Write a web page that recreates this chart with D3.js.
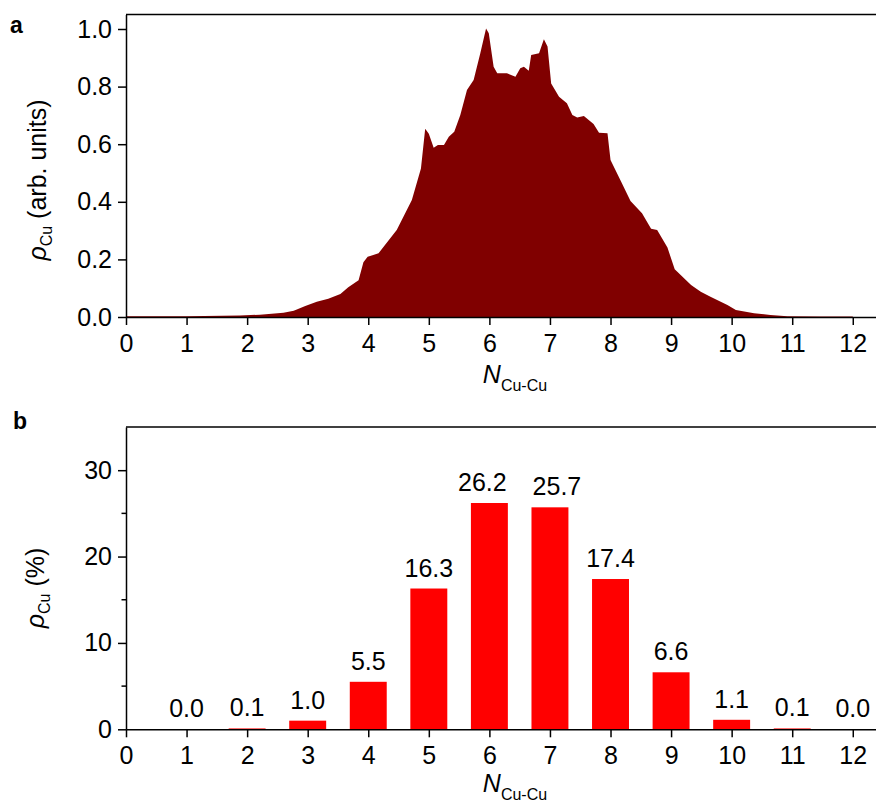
<!DOCTYPE html>
<html>
<head>
    <meta charset="utf-8">
    <title>Cu coordination</title>
    <style>
        body { margin: 0; background: #fff; }
        text { font-family: "Liberation Sans", Arial, sans-serif; fill: #000; }
    </style>
</head>
<body>
    <script src="https://cdnjs.cloudflare.com/ajax/libs/d3/7.9.0/d3.min.js"></script>
    <script>
        // panel a: density of Cu vs coordination number
        const densityN = [0, 1.0, 1.88, 2.21, 2.6, 2.77, 2.96, 3.15, 3.34, 3.54, 3.67, 3.84, 3.92, 3.99,
            4.17, 4.36, 4.47, 4.72, 4.87, 4.94, 5.0, 5.08, 5.15, 5.25, 5.33, 5.42, 5.52, 5.63, 5.74,
            5.85, 5.945, 5.99, 6.07, 6.13, 6.29, 6.43, 6.51, 6.57, 6.65, 6.69, 6.82, 6.9, 6.96, 7.02,
            7.15, 7.28, 7.37, 7.45, 7.56, 7.72, 7.81, 7.95, 8.0, 8.17, 8.33, 8.52, 8.67, 8.77, 8.94,
            9.06, 9.33, 9.49, 9.65, 9.93, 10.07, 10.37, 10.64, 10.92, 11.47, 12.0];
        const densityRho = [0.003, 0.003, 0.005, 0.008, 0.015, 0.022, 0.038, 0.053, 0.063, 0.080, 0.103,
            0.128, 0.190, 0.209, 0.221, 0.273, 0.302, 0.406, 0.516, 0.654, 0.636, 0.588, 0.597, 0.597,
            0.626, 0.643, 0.701, 0.788, 0.823, 0.916, 1.002, 0.985, 0.869, 0.846, 0.846, 0.834, 0.864,
            0.869, 0.855, 0.910, 0.916, 0.964, 0.939, 0.811, 0.765, 0.742, 0.701, 0.693, 0.698, 0.670,
            0.640, 0.638, 0.545, 0.472, 0.403, 0.360, 0.306, 0.302, 0.241, 0.166, 0.111, 0.088, 0.070,
            0.042, 0.024, 0.013, 0.007, 0.003, 0.002, 0.002];

        // panel b: percentage per coordination number
        const barN = [1, 2, 3, 4, 5, 6, 7, 8, 9, 10, 11, 12];
        const barPct = [0.0, 0.1, 1.0, 5.5, 16.3, 26.2, 25.7, 17.4, 6.6, 1.1, 0.1, 0.0];

        const xTicks = d3.range(0, 13);
        const yTicksA = [0, 0.2, 0.4, 0.6, 0.8, 1.0];
        const yTicksB = [0, 10, 20, 30];
        const yMinorB = [5, 15, 25];

        const width = 876;
        const height = 805;
        const left = 126, right = 877;
        const fs = 25;

        const svg = d3.select("body")
            .append("svg")
            .attr("width", width)
            .attr("height", height);

        const x = d3.scaleLinear().domain([0, 12.4]).range([left, right]);
        const yA = d3.scaleLinear().domain([0, 1.05]).range([317, 14.6]);
        const yB = d3.scaleLinear().domain([0, 35]).range([729.3, 427]);

        function styleAxis(g) {
            g.selectAll("path, line").attr("stroke", "#000").attr("stroke-width", 1.5);
            g.selectAll("text").attr("font-size", fs).attr("fill", "#000")
                .attr("font-family", "'Liberation Sans', Arial, sans-serif");
        }

        function frame(yScale) {
            svg.append("line")
                .attr("x1", left).attr("x2", right)
                .attr("y1", yScale.range()[1]).attr("y2", yScale.range()[1])
                .attr("stroke", "#000").attr("stroke-width", 1.5);
        }

        function rhoTitle(cx, cy, rest) {
            const t = svg.append("text")
                .attr("transform", `translate(${cx},${cy}) rotate(-90)`)
                .attr("text-anchor", "middle")
                .attr("font-size", fs);
            t.append("tspan").attr("font-style", "italic").text("ρ");
            t.append("tspan").attr("font-size", 16).attr("dy", 6).text("Cu");
            t.append("tspan").attr("dy", -6).text(rest);
        }

        function nTitle(cx, by) {
            const t = svg.append("text")
                .attr("x", cx).attr("y", by)
                .attr("text-anchor", "middle")
                .attr("font-size", fs);
            t.append("tspan").attr("font-style", "italic").text("N");
            t.append("tspan").attr("font-size", 16).attr("dy", 8).text("Cu-Cu");
        }

        // ---- panel a ----
        const pts = densityN.map((n, i) => [n, densityRho[i]]);
        const area = d3.area()
            .x(d => x(d[0]))
            .y0(yA(0))
            .y1(d => yA(d[1]));

        svg.append("path")
            .datum(pts)
            .attr("d", area)
            .attr("fill", "#800000");

        frame(yA);

        svg.append("g")
            .attr("transform", `translate(0,${yA(0)})`)
            .call(d3.axisBottom(x).tickValues(xTicks).tickFormat(d3.format("d"))
                .tickSize(8).tickSizeOuter(0).tickPadding(9))
            .call(styleAxis);

        svg.append("g")
            .attr("transform", `translate(${left},0)`)
            .call(d3.axisLeft(yA).tickValues(yTicksA).tickFormat(d3.format(".1f"))
                .tickSize(8).tickSizeOuter(0).tickPadding(6))
            .call(styleAxis);

        rhoTitle(46, 180, " (arb. units)");
        nTitle(515, 383);

        svg.append("text")
            .attr("x", 10).attr("y", 33)
            .attr("font-size", 23).attr("font-weight", "bold")
            .text("a");

        // ---- panel b ----
        const barW = 0.61;
        // the two tallest labels are pushed apart a little, as in the original
        const labelNudge = {6: -7, 7: 7};

        svg.selectAll(".bar")
            .data(barN)
            .enter()
            .append("rect")
            .attr("class", "bar")
            .attr("x", (d) => x(d - barW / 2))
            .attr("width", x(barW) - x(0))
            .attr("y", (d, i) => yB(barPct[i]))
            .attr("height", (d, i) => yB(0) - yB(barPct[i]))
            .attr("fill", "#ff0000");

        svg.selectAll(".barlabel")
            .data(barN)
            .enter()
            .append("text")
            .attr("class", "barlabel")
            .attr("x", d => x(d) + (labelNudge[d] || 0))
            .attr("y", (d, i) => yB(barPct[i]) - 12)
            .attr("text-anchor", "middle")
            .attr("font-size", fs)
            .text((d, i) => d3.format(".1f")(barPct[i]));

        frame(yB);

        svg.append("g")
            .attr("transform", `translate(0,${yB(0)})`)
            .call(d3.axisBottom(x).tickValues(xTicks).tickFormat(d3.format("d"))
                .tickSize(8).tickSizeOuter(0).tickPadding(9))
            .call(styleAxis);

        const yAxisB = svg.append("g")
            .attr("transform", `translate(${left},0)`)
            .call(d3.axisLeft(yB).tickValues(yTicksB).tickFormat(d3.format("d"))
                .tickSize(8).tickSizeOuter(0).tickPadding(6))
            .call(styleAxis);

        // minor ticks
        yAxisB.selectAll(".minor")
            .data(yMinorB)
            .enter()
            .append("line")
            .attr("class", "minor")
            .attr("x1", -4.5).attr("x2", 0)
            .attr("y1", d => yB(d)).attr("y2", d => yB(d))
            .attr("stroke", "#000").attr("stroke-width", 1.5);

        rhoTitle(44, 588, " (%)");
        nTitle(515, 792);

        svg.append("text")
            .attr("x", 13).attr("y", 429)
            .attr("font-size", 23).attr("font-weight", "bold")
            .text("b");
    </script>
</body>
</html>
